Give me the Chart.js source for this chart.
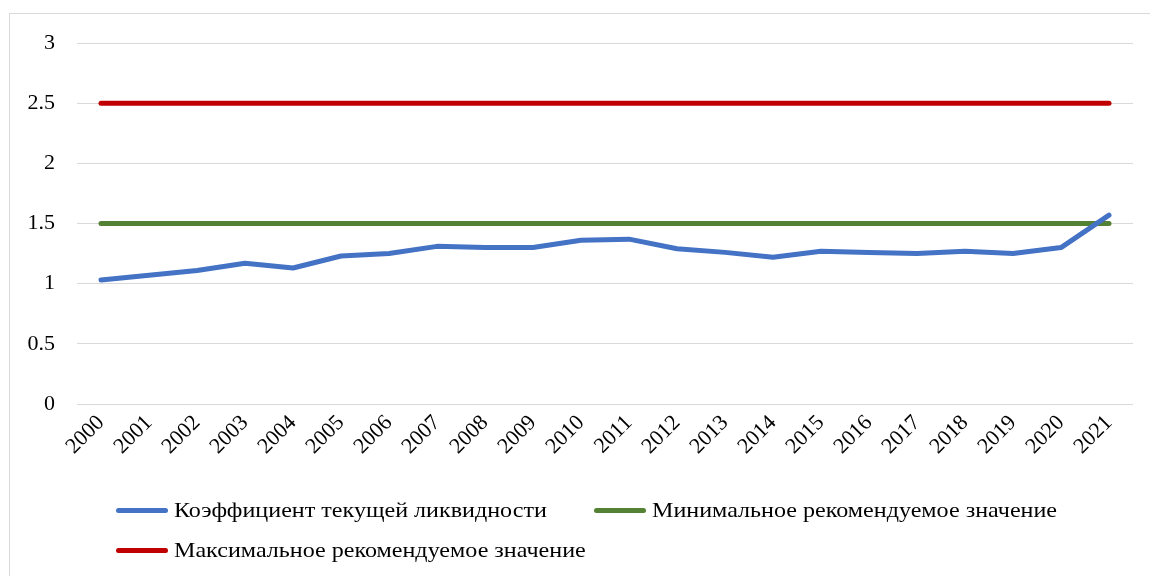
<!DOCTYPE html>
<html>
<head>
<meta charset="utf-8">
<script src="https://cdn.jsdelivr.net/npm/chart.js@4/dist/chart.umd.min.js"></script>
<style>
  body { margin: 0; background: #fff; }
  #frame { position: absolute; left: 9px; top: 13px; width: 1160px; height: 600px; border-left: 1px solid #d9d9d9; border-top: 1px solid #d9d9d9; }
  #wrap { position: absolute; left: 0; top: 0; width: 1150px; height: 576px; }
  #legend { position: absolute; left: 0; top: 0; font-family: "Liberation Serif", serif; font-size: 22px; color: #000; }
  .item { position: absolute; white-space: nowrap; display: flex; align-items: center; }
  .swatch { width: 52px; height: 5px; border-radius: 3px; margin-right: 6px; }
  .txt { display: inline-block; transform: scaleX(1.095); transform-origin: left center; }
</style>
</head>
<body>
<div id="frame"></div>
<div id="wrap"><canvas id="chart" width="1150" height="576"></canvas></div>
<div id="legend"></div>
<script>
const years = ["2000","2001","2002","2003","2004","2005","2006","2007","2008","2009","2010",
  "2011","2012","2013","2014","2015","2016","2017","2018","2019","2020","2021"];
const liquidity = [1.03, 1.07, 1.11, 1.17, 1.13, 1.23, 1.25, 1.31, 1.30, 1.30, 1.36,
  1.37, 1.29, 1.26, 1.22, 1.27, 1.26, 1.25, 1.27, 1.25, 1.30, 1.57];
const minValue = [1.5, 1.5, 1.5, 1.5, 1.5, 1.5, 1.5, 1.5, 1.5, 1.5, 1.5,
  1.5, 1.5, 1.5, 1.5, 1.5, 1.5, 1.5, 1.5, 1.5, 1.5, 1.5];
const maxValue = [2.5, 2.5, 2.5, 2.5, 2.5, 2.5, 2.5, 2.5, 2.5, 2.5, 2.5,
  2.5, 2.5, 2.5, 2.5, 2.5, 2.5, 2.5, 2.5, 2.5, 2.5, 2.5];
const seriesNames = ["Коэффициент текущей ликвидности", "Минимальное рекомендуемое значение", "Максимальное рекомендуемое значение"];
const seriesColors = ["#4472C4", "#548235", "#C00000"];

const font = { family: "'Liberation Serif', serif", size: 22 };

function line(label, data, color) {
  return {
    label, data,
    borderColor: color,
    backgroundColor: color,
    borderWidth: 5,
    borderCapStyle: "round",
    borderJoinStyle: "round",
    pointRadius: 0,
    tension: 0,
    fill: false
  };
}

const chart = new Chart(document.getElementById("chart"), {
  type: "line",
  data: {
    labels: years,
    datasets: [
      line(seriesNames[0], liquidity, seriesColors[0]),
      line(seriesNames[1], minValue, seriesColors[1]),
      line(seriesNames[2], maxValue, seriesColors[2])
    ]
  },
  options: {
    responsive: false,
    animation: false,
    layout: { padding: { left: 0, right: 17, top: 43, bottom: 112 } },
    plugins: { legend: { display: false }, tooltip: { enabled: false } },
    scales: {
      x: {
        offset: true,
        grid: { display: false, drawTicks: false },
        border: { display: false },
        ticks: { color: "#000", font, minRotation: 45, maxRotation: 45, padding: 6, autoSkip: false },
        afterFit: s => { s.height = 60; }
      },
      y: {
        min: 0, max: 3,
        grid: { color: "#d9d9d9", lineWidth: 1, drawTicks: false },
        border: { display: false },
        ticks: { color: "#000", font, stepSize: 0.5, padding: 22, callback: v => String(+v) },
        afterFit: s => { s.width = 77; }
      }
    }
  }
});

// legend laid out like the original: two columns, wrapping
const legend = document.getElementById("legend");
const spots = [[116, 510], [594, 510], [116, 550]];
chart.data.datasets.forEach((ds, i) => {
  const it = document.createElement("div");
  it.className = "item";
  it.style.left = spots[i][0] + "px";
  it.style.top = (spots[i][1] - 13) + "px";
  it.innerHTML = `<span class="swatch" style="background:${ds.borderColor}"></span><span class="txt">${ds.label}</span>`;
  legend.appendChild(it);
});
</script>
</body>
</html>
